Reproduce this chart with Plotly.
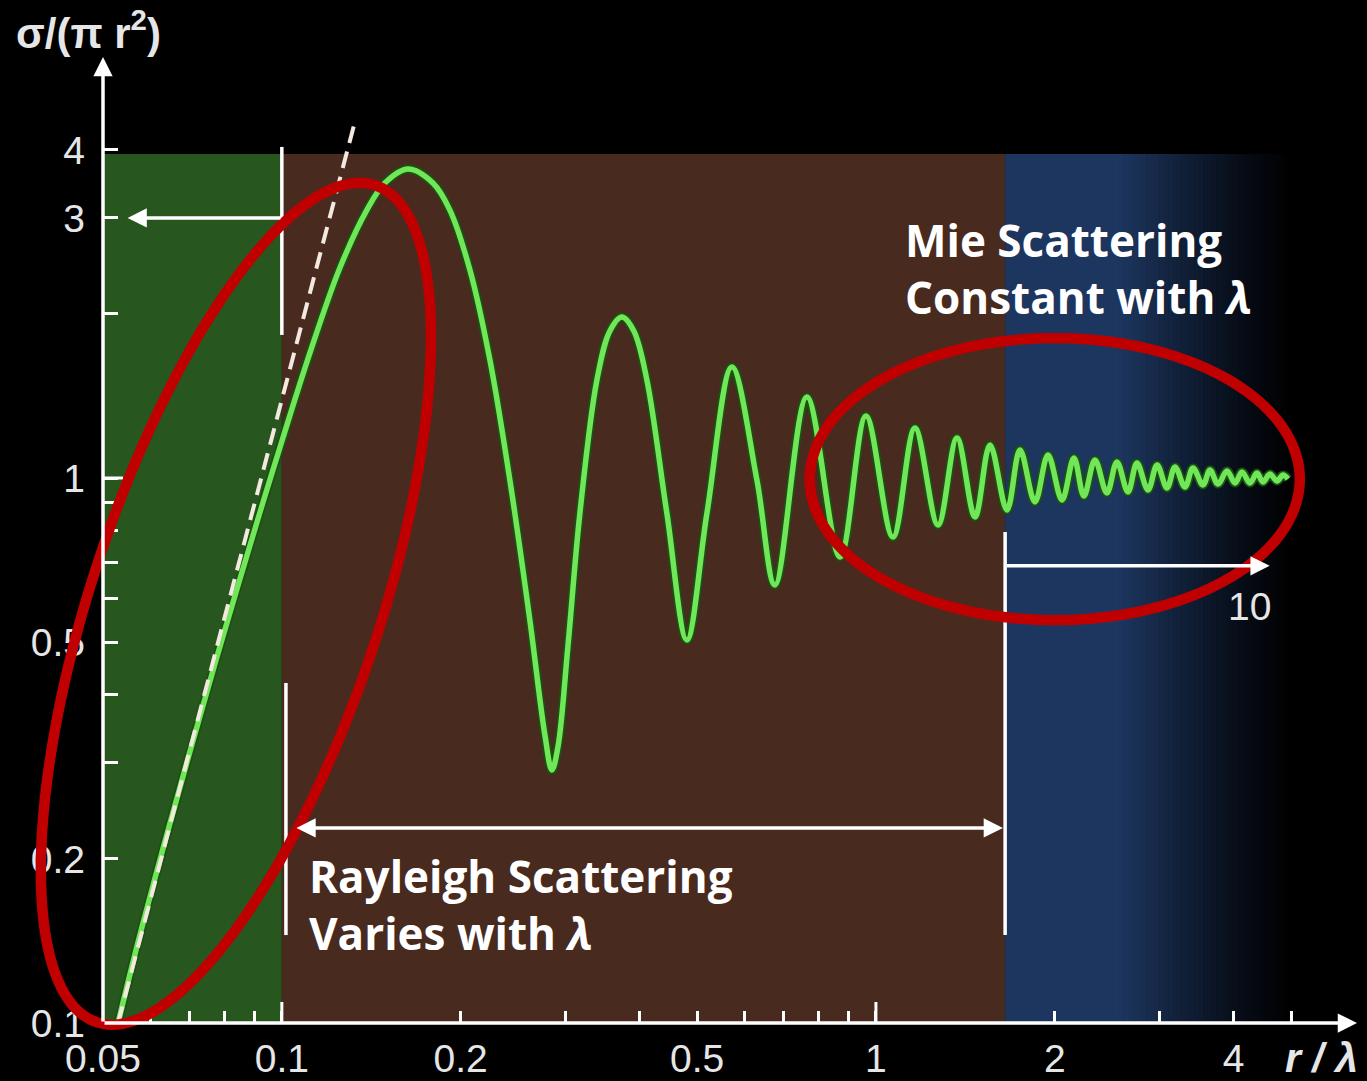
import numpy as np
import plotly.graph_objects as go

# ---------------- data ----------------
curve_x = [0.0530, 0.05768, 0.06353, 0.0700, 0.07714, 0.0850, 0.09255, 0.1004, 0.1115, 0.1252,
           0.1390, 0.1491, 0.1630, 0.1796, 0.1918, 0.2073, 0.2240, 0.2420, 0.2615, 0.2772,
           0.2848, 0.2916, 0.3030, 0.3175, 0.3391, 0.3566, 0.3736, 0.3913, 0.4116, 0.4447,
           0.4806, 0.5195, 0.5722, 0.6305, 0.6761, 0.7652, 0.8700, 0.9621, 1.068, 1.163,
           1.272, 1.369, 1.468, 1.556, 1.662, 1.748, 1.852, 1.948, 2.057, 2.154,
           2.239, 2.337, 2.448, 2.545, 2.656, 2.750, 2.871, 2.973, 3.090, 3.187,
           3.313, 3.417, 3.552, 3.650, 3.765, 3.899, 4.022, 4.132, 4.262, 4.379,
           4.482, 4.605, 4.732, 4.844, 4.938]
curve_y = [0.100, 0.1450, 0.2148, 0.3143, 0.4557, 0.6529, 0.8884, 1.184, 1.696, 2.428,
           3.102, 3.478, 3.690, 3.478, 3.102, 2.408, 1.646, 0.9916, 0.5488, 0.3376,
           0.2912, 0.3209, 0.4897, 0.8626, 1.513, 1.861, 1.974, 1.861, 1.513, 0.8626,
           0.5044, 0.8626, 1.598, 0.9916, 0.6364, 1.408, 0.7161, 1.300, 0.7790, 1.235,
           0.8201, 1.184, 0.8482, 1.150, 0.8735, 1.126, 0.9036, 1.102, 0.9112, 1.088,
           0.9268, 1.079, 0.9386, 1.070, 0.9426, 1.065, 0.9506, 1.057, 0.9587, 1.048,
           0.9627, 1.043, 0.9710, 1.034, 0.9750, 1.030, 0.9790, 1.026, 0.9790, 1.021,
           0.9833, 1.017, 0.9874, 1.013, 0.996]

rayleigh_x = [0.053, 0.1327]
rayleigh_y = [0.100, 4.50]

x_tick_vals = [0.05, 0.1, 0.2, 0.5, 1, 2, 4]
x_tick_text = ["0.05", "0.1", "0.2", "0.5", "1", "2", "4"]
x_minor_vals = [0.06, 0.07, 0.08, 0.09, 0.3, 0.4, 0.6, 0.7, 0.8, 0.9, 3, 5]
x_long_ticks = [0.1, 1]
y_tick_vals = [0.1, 0.2, 0.5, 1, 3, 4]
y_tick_text = ["0.1", "0.2", "0.5", "1", "3", "4"]
y_minor_vals = [0.3, 0.4, 0.6, 0.7, 0.8, 0.9, 2]

green_region = [0.05, 0.1]
brown_region = [0.1, 1.65]
blue_region = [1.65, 2.575]
blue_fade = [2.575, 5.075]
region_y = [0.1, 3.93]

# boundary markers: (x, y_from, y_to)
boundary_lines = [(0.1, 4.05, 1.83), (0.1016, 0.4206, 0.145), (1.65, 0.796, 0.145)]
# arrows: (x_tail, x_head, y, both_ends)
arrows = [(0.1, 0.055, 3.0, False), (0.1052, 1.636, 0.228, True), (1.65, 4.60, 0.69, False)]
ten_label = (4.26, 0.58)

# ---------------- layout constants ----------------
W, H = 1367, 1081
M_L, M_R, M_T, M_B = 103, 10, 57, 58
PW, PH = W - M_L - M_R, H - M_T - M_B
X_RANGE = [np.log10(0.05), -1 + (1357 - 282) / 594]
Y_RANGE = [-1.0, (478 - 57) / 545]

GREEN_BG = "#27561f"
BROWN_BG = "#482a1f"
BLUE_BG = (29, 54, 95)
RED = "#c00000"
TXT = "#e6e6e6"

fig = go.Figure()

# background regions
shapes = []
shapes.append(dict(type="rect", xref="x", yref="y", x0=green_region[0], x1=green_region[1],
                   y0=region_y[0], y1=region_y[1], fillcolor=GREEN_BG, line_width=0, layer="below"))
shapes.append(dict(type="rect", xref="x", yref="y", x0=brown_region[0], x1=brown_region[1],
                   y0=region_y[0], y1=region_y[1], fillcolor=BROWN_BG, line_width=0, layer="below"))
shapes.append(dict(type="rect", xref="x", yref="y", x0=blue_region[0], x1=blue_region[1],
                   y0=region_y[0], y1=region_y[1], fillcolor="rgb(%d,%d,%d)" % BLUE_BG,
                   line_width=0, layer="below"))
N = 40
edges = np.geomspace(blue_fade[0], blue_fade[1], N + 1)
for i in range(N):
    f = 1 - (i + 0.5) / N
    f = f ** 1.2
    c = tuple(int(round(v * f)) for v in BLUE_BG)
    shapes.append(dict(type="rect", xref="x", yref="y", x0=edges[i], x1=edges[i + 1] * 1.002,
                       y0=region_y[0], y1=region_y[1], fillcolor="rgb(%d,%d,%d)" % c,
                       line_width=0, layer="below"))

# boundary white lines
for bx, y0, y1 in boundary_lines:
    shapes.append(dict(type="line", xref="x", yref="y", x0=bx, x1=bx, y0=y0, y1=y1,
                       line=dict(color="white", width=3.5), layer="above"))
# long ticks at 0.1 and 1
for lx in x_long_ticks:
    shapes.append(dict(type="line", xref="x", yref="y domain", x0=lx, x1=lx, y0=0, y1=21 / PH,
                       line=dict(color="white", width=3), layer="above"))
# slightly longer tick at y = 1
shapes.append(dict(type="line", xref="x domain", yref="y", x0=0, x1=20 / PW, y0=1, y1=1,
                   line=dict(color="white", width=3), layer="above"))


def ellipse_path(cx, cy, a, b, tilt_deg, n=240):
    th = np.radians(tilt_deg)
    t = np.linspace(0, 2 * np.pi, n, endpoint=False)
    dx = a * np.cos(t) * np.sin(th) + b * np.sin(t) * np.cos(th)
    dy = a * np.cos(t) * np.cos(th) - b * np.sin(t) * np.sin(th)
    xs = cx + dx / PW
    ys = cy + dy / PH
    pts = ["%.5f,%.5f" % (x, y) for x, y in zip(xs, ys)]
    return "M" + " L".join(pts) + " Z"


# red highlight ellipses (paper coords, radii in px)
ellipses = [(0.1060, 0.4340, 441, 144, 18.4), (0.7590, 0.5630, 245, 141, 90)]
for cx, cy, a, b, tilt in ellipses:
    shapes.append(dict(type="path", xref="paper", yref="paper", path=ellipse_path(cx, cy, a, b, tilt),
                       line=dict(color=RED, width=10.5), fillcolor="rgba(0,0,0,0)", layer="above"))

# curve
fig.add_trace(go.Scatter(x=curve_x, y=curve_y, mode="lines",
                         line=dict(color="#1b5212", width=9, shape="spline", smoothing=1.0),
                         hoverinfo="skip", showlegend=False))
fig.add_trace(go.Scatter(x=curve_x, y=curve_y, mode="lines",
                         line=dict(color="#70e658", width=5.5, shape="spline", smoothing=1.0),
                         hoverinfo="skip", showlegend=False))
fig.add_trace(go.Scatter(x=rayleigh_x, y=rayleigh_y, mode="lines",
                         line=dict(color="#f3e9e0", width=4, dash="17px,9px"),
                         hoverinfo="skip", showlegend=False))

annotations = []
# axis arrows
annotations.append(dict(xref="paper", yref="paper", x=0, y=1, ax=0, ay=PH, text="", showarrow=True,
                        arrowhead=2, arrowsize=1.1, arrowwidth=3.5, arrowcolor="white"))
annotations.append(dict(xref="paper", yref="paper", x=1, y=0, ax=-PW, ay=0, text="", showarrow=True,
                        arrowhead=2, arrowsize=1.1, arrowwidth=3.5, arrowcolor="white"))
for xt, xh, yy, both in arrows:
    annotations.append(dict(xref="x", yref="y", axref="x", ayref="y",
                            x=np.log10(xh), y=np.log10(yy), ax=np.log10(xt), ay=np.log10(yy),
                            text="", showarrow=True, arrowhead=2, arrowsize=1.1, arrowwidth=3.5,
                            arrowcolor="white", arrowside="end+start" if both else "end"))
annotations.append(dict(xref="x", yref="y", x=np.log10(ten_label[0]), y=np.log10(ten_label[1]),
                        text="10", showarrow=False, font=dict(family="Liberation Sans, Arial", size=39, color=TXT)))

LABEL_FONT = dict(family="Open Sans, Noto Sans, sans-serif", size=44, color="white")
for txt, px, py in [("<b>Mie Scattering</b>", 903, 240), ("<b>Constant with <i>λ</i></b>", 903, 297),
                    ("<b>Rayleigh Scattering</b>", 307, 876), ("<b>Varies with <i>λ</i></b>", 307, 933)]:
    annotations.append(dict(xref="paper", yref="paper", x=(px - M_L) / PW, y=(M_T + PH - py) / PH,
                            xanchor="left", yanchor="middle", text=txt, showarrow=False, font=LABEL_FONT))

annotations.append(dict(xref="paper", yref="paper", x=(14 - M_L) / PW, y=(M_T + PH - 30) / PH,
                        xanchor="left", yanchor="middle", text="<b>σ/(π r<sup>2</sup>)</b>", showarrow=False,
                        font=dict(family="Liberation Sans, Arial", size=42, color=TXT)))
annotations.append(dict(xref="paper", yref="paper", x=(1360 - M_L) / PW, y=(M_T + PH - 1058) / PH,
                        xanchor="right", yanchor="middle", text="<b><i>r / λ</i></b>", showarrow=False,
                        font=dict(family="Liberation Sans, Arial", size=41, color=TXT)))

TICK_FONT = dict(family="Liberation Sans, Arial", size=39, color=TXT)
fig.update_layout(
    width=W, height=H, autosize=False,
    margin=dict(l=M_L, r=M_R, t=M_T, b=M_B, pad=0, autoexpand=False),
    paper_bgcolor="black", plot_bgcolor="black",
    shapes=shapes, annotations=annotations,
    xaxis=dict(type="log", range=X_RANGE, showgrid=False, zeroline=False, showline=False,
               automargin=False,
               tickmode="array", tickvals=x_tick_vals, ticktext=x_tick_text,
               ticks="inside", ticklen=12, tickwidth=3, tickcolor="white", tickfont=TICK_FONT,
               ticklabelstandoff=9,
               minor=dict(tickmode="array", tickvals=x_minor_vals, ticks="inside", ticklen=12,
                          tickwidth=3, tickcolor="white", showgrid=False)),
    yaxis=dict(type="log", range=Y_RANGE, showgrid=False, zeroline=False, showline=False,
               automargin=False,
               tickmode="array", tickvals=y_tick_vals, ticktext=y_tick_text,
               ticks="inside", ticklen=15, tickwidth=3, tickcolor="white", tickfont=TICK_FONT,
               ticklabelstandoff=17,
               minor=dict(tickmode="array", tickvals=y_minor_vals, ticks="inside", ticklen=15,
                          tickwidth=3, tickcolor="white", showgrid=False)),
)

fig.write_html("out.html", config={"displayModeBar": False},
               post_script="document.body.style.margin='0';document.body.style.overflow='hidden';")
